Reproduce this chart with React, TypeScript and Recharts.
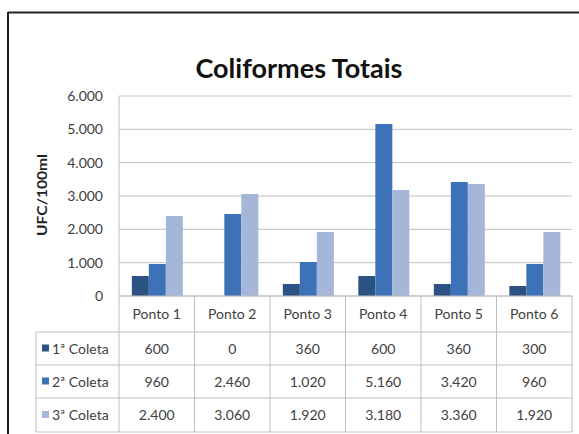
import React from 'react';
import { BarChart, Bar, XAxis, YAxis, CartesianGrid } from 'recharts';

const categories = ['Ponto 1', 'Ponto 2', 'Ponto 3', 'Ponto 4', 'Ponto 5', 'Ponto 6'];
const coleta1 = [600, 0, 360, 600, 360, 300];
const coleta2 = [960, 2460, 1020, 5160, 3420, 960];
const coleta3 = [2400, 3060, 1920, 3180, 3360, 1920];
const seriesNames = ['1ª Coleta', '2ª Coleta', '3ª Coleta'];
const yTicks = [0, 1000, 2000, 3000, 4000, 5000, 6000];
const chartTitle = 'Coliformes Totais';
const yLabel = 'UFC/100ml';

const series = [coleta1, coleta2, coleta3];
const keys = ['c1', 'c2', 'c3'];
const COLORS = ['#2C5283', '#3D72B8', '#A5B6D9'];
const GRID = '#BFBFBF';
const TEXT = '#404040';
const FONT = 'Lato, "Open Sans", sans-serif';

const W = 579;
const H = 434;
const PLOT_L = 119;
const PLOT_R = 572;
const PLOT_T = 96;
const PLOT_B = 296;
const ROW_Y = [296, 332, 365, 398, 432];
const TABLE_L = 36;

const fmt = (v: number) => v.toString().replace(/\B(?=(\d{3})+(?!\d))/g, '.');

const data = categories.map((c, i) => ({ name: c, c1: coleta1[i], c2: coleta2[i], c3: coleta3[i] }));

const TableTick = (props: any) => {
  const { x, payload } = props;
  const i = payload.index;
  const bw = (PLOT_R - PLOT_L) / categories.length;
  const right = x + bw / 2;
  return (
    <g>
      <line x1={right} x2={right} y1={PLOT_B} y2={ROW_Y[4]} stroke={GRID} />
      <text x={x} y={(ROW_Y[0] + ROW_Y[1]) / 2 + 5} textAnchor="middle" fontSize={14} fill={TEXT} fontFamily={FONT}>
        {payload.value}
      </text>
      {series.map((s, k) => (
        <text key={k} x={x} y={(ROW_Y[k + 1] + ROW_Y[k + 2]) / 2 + 5} textAnchor="middle" fontSize={14} fill={TEXT} fontFamily={FONT}>
          {fmt(s[i])}
        </text>
      ))}
    </g>
  );
};

export default function App() {
  return (
    <div style={{ position: 'absolute', left: 0, top: 0, width: W, height: H, background: '#fff', overflow: 'hidden' }}>
      <BarChart
        width={W}
        height={H}
        data={data}
        margin={{ top: PLOT_T, right: W - PLOT_R, left: 59, bottom: 0 }}
        barCategoryGap="17%"
        barGap={0}
      >
        <CartesianGrid vertical={false} stroke={GRID} />
        <XAxis
          dataKey="name"
          height={H - PLOT_B}
          interval={0}
          tickLine={false}
          axisLine={{ stroke: GRID }}
          tick={<TableTick />}
        />
        <YAxis
          width={60}
          domain={[0, 6000]}
          ticks={yTicks}
          tickFormatter={fmt}
          tickLine={false}
          tickSize={0}
          tickMargin={16}
          axisLine={{ stroke: GRID }}
          tick={{ fontSize: 14, fill: TEXT, fontFamily: FONT }}
        />
        {keys.map((k, idx) => (
          <Bar key={k} dataKey={k} name={seriesNames[idx]} fill={COLORS[idx]} isAnimationActive={false} />
        ))}
      </BarChart>
      <svg width={W} height={H} style={{ position: 'absolute', left: 0, top: 0, pointerEvents: 'none' }}>
        <line x1={8} x2={W} y1={12.5} y2={12.5} stroke="#222" strokeWidth={2} />
        <line x1={8} x2={8} y1={12} y2={H} stroke="#222" strokeWidth={2} />
        <text
          x={299}
          y={78}
          textAnchor="middle"
          fontSize={26}
          fontWeight="bold"
          fill="#111"
          fontFamily={FONT}
          textLength={207}
          lengthAdjust="spacingAndGlyphs"
        >
          {chartTitle}
        </text>
        <text
          transform={`translate(47, 195) rotate(-90)`}
          textAnchor="middle"
          fontSize={14}
          fontWeight="bold"
          fill="#222"
          fontFamily={FONT}
          textLength={82}
          lengthAdjust="spacingAndGlyphs"
        >
          {yLabel}
        </text>
        <line x1={PLOT_L} x2={PLOT_L} y1={PLOT_B} y2={ROW_Y[4]} stroke={GRID} />
        <line x1={TABLE_L} x2={TABLE_L} y1={ROW_Y[1]} y2={ROW_Y[4]} stroke={GRID} />
        {ROW_Y.slice(1).map((y, i) => (
          <line key={i} x1={TABLE_L} x2={PLOT_R} y1={y} y2={y} stroke={GRID} />
        ))}
        {seriesNames.map((n, k) => {
          const cy = (ROW_Y[k + 1] + ROW_Y[k + 2]) / 2;
          return (
            <g key={n}>
              <rect x={42} y={cy - 4} width={7} height={7} fill={COLORS[k]} />
              <text x={52} y={cy + 5} fontSize={14} fill={TEXT} fontFamily={FONT}>
                {n}
              </text>
            </g>
          );
        })}
      </svg>
    </div>
  );
}
